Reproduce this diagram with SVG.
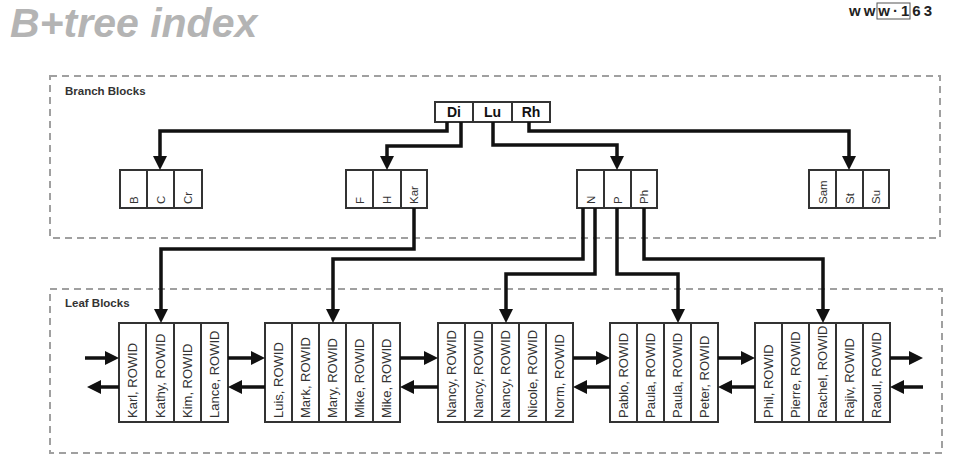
<svg xmlns="http://www.w3.org/2000/svg" width="974" height="461" viewBox="0 0 974 461">
<defs>
<style>
.title{font-family:"Liberation Sans",Arial,sans-serif;font-weight:bold;font-style:italic;font-size:41px;fill:#b4b4b4}
.wm{font-family:"Liberation Sans",Arial,sans-serif;font-weight:bold;font-size:15px;fill:#222}
.grp{fill:none;stroke:#a0a0a0;stroke-width:2;stroke-dasharray:7 5}
.lbl{font-family:"Liberation Sans",Arial,sans-serif;font-weight:bold;font-size:11.5px;fill:#333}
.box{fill:#fff;stroke:#333;stroke-width:2}
.div{stroke:#333;stroke-width:2}
.root{font-family:"Liberation Sans",Arial,sans-serif;font-weight:bold;font-size:14px;fill:#111;text-anchor:middle}
.bt{font-family:"Liberation Sans",Arial,sans-serif;font-size:11.5px;fill:#333}
.lt{font-family:"Liberation Sans",Arial,sans-serif;font-size:13px;fill:#333}
.c{fill:none;stroke:#111;stroke-width:3.5;marker-end:url(#ah)}
</style>
<marker id="ah" markerUnits="userSpaceOnUse" markerWidth="14" markerHeight="14" viewBox="0 0 14 14" refX="6" refY="7" orient="auto">
<path d="M0,0 L14,7 L0,14 z" fill="#111"/>
</marker>
</defs>
<rect width="974" height="461" fill="#fff"/>
<text class="title" x="10" y="37">B+tree index</text>
<g id="watermark">
<rect x="877" y="3" width="33" height="16" fill="none" stroke="#555" stroke-width="1"/>
<text class="wm" x="849" y="16" letter-spacing="3">www·163</text>
</g>

<g id="branch-group">
<rect class="grp" x="50" y="76" width="890" height="162"/>
<text class="lbl" x="65" y="95">Branch Blocks</text>
</g>
<g id="leaf-group">
<rect class="grp" x="50" y="289" width="892" height="164"/>
<text class="lbl" x="65" y="307">Leaf Blocks</text>
</g>

<g id="root">
<rect class="box" x="435" y="102" width="115" height="20"/>
<line class="div" x1="473" y1="102" x2="473" y2="122"/>
<line class="div" x1="512" y1="102" x2="512" y2="122"/>
<text class="root" x="454" y="117">Di</text>
<text class="root" x="492.5" y="117">Lu</text>
<text class="root" x="531" y="117">Rh</text>
</g>

<g id="branch-B">
<rect class="box" x="120" y="170" width="82" height="38"/>
<line class="div" x1="147" y1="170" x2="147" y2="208"/>
<line class="div" x1="174" y1="170" x2="174" y2="208"/>
<text class="bt" transform="translate(137.5,204) rotate(-90)">B</text>
<text class="bt" transform="translate(164.5,204) rotate(-90)">C</text>
<text class="bt" transform="translate(192,204) rotate(-90)">Cr</text>
</g>
<g id="branch-F">
<rect class="box" x="346" y="170" width="81" height="38"/>
<line class="div" x1="373" y1="170" x2="373" y2="208"/>
<line class="div" x1="401" y1="170" x2="401" y2="208"/>
<text class="bt" transform="translate(363.5,204) rotate(-90)">F</text>
<text class="bt" transform="translate(391,204) rotate(-90)">H</text>
<text class="bt" transform="translate(418,204) rotate(-90)">Kar</text>
</g>
<g id="branch-N">
<rect class="box" x="577" y="170" width="80" height="38"/>
<line class="div" x1="604" y1="170" x2="604" y2="208"/>
<line class="div" x1="631" y1="170" x2="631" y2="208"/>
<text class="bt" transform="translate(594.5,204) rotate(-90)">N</text>
<text class="bt" transform="translate(621.5,204) rotate(-90)">P</text>
<text class="bt" transform="translate(648,204) rotate(-90)">Ph</text>
</g>
<g id="branch-S">
<rect class="box" x="809" y="170" width="80" height="38"/>
<line class="div" x1="836" y1="170" x2="836" y2="208"/>
<line class="div" x1="863" y1="170" x2="863" y2="208"/>
<text class="bt" transform="translate(826.5,204) rotate(-90)">Sam</text>
<text class="bt" transform="translate(853.5,204) rotate(-90)">St</text>
<text class="bt" transform="translate(880,204) rotate(-90)">Su</text>
</g>

<g id="leaf-1">
<rect class="box" x="119" y="323" width="109" height="99"/>
<line class="div" x1="146" y1="323" x2="146" y2="422"/>
<line class="div" x1="174" y1="323" x2="174" y2="422"/>
<line class="div" x1="201" y1="323" x2="201" y2="422"/>
<text class="lt" transform="translate(137,418) rotate(-90)">Karl, ROWID</text>
<text class="lt" transform="translate(164.5,418) rotate(-90)">Kathy, ROWID</text>
<text class="lt" transform="translate(192,418) rotate(-90)">Kim, ROWID</text>
<text class="lt" transform="translate(219,418) rotate(-90)">Lance, ROWID</text>
</g>
<g id="leaf-2">
<rect class="box" x="265" y="323" width="135" height="99"/>
<line class="div" x1="292" y1="323" x2="292" y2="422"/>
<line class="div" x1="319" y1="323" x2="319" y2="422"/>
<line class="div" x1="346" y1="323" x2="346" y2="422"/>
<line class="div" x1="373" y1="323" x2="373" y2="422"/>
<text class="lt" transform="translate(283,418) rotate(-90)">Luis, ROWID</text>
<text class="lt" transform="translate(310,418) rotate(-90)">Mark, ROWID</text>
<text class="lt" transform="translate(337,418) rotate(-90)">Mary, ROWID</text>
<text class="lt" transform="translate(364,418) rotate(-90)">Mike, ROWID</text>
<text class="lt" transform="translate(391,418) rotate(-90)">Mike, ROWID</text>
</g>
<g id="leaf-3">
<rect class="box" x="438" y="323" width="135" height="99"/>
<line class="div" x1="465" y1="323" x2="465" y2="422"/>
<line class="div" x1="492" y1="323" x2="492" y2="422"/>
<line class="div" x1="519" y1="323" x2="519" y2="422"/>
<line class="div" x1="546" y1="323" x2="546" y2="422"/>
<text class="lt" transform="translate(456,418) rotate(-90)">Nancy, ROWID</text>
<text class="lt" transform="translate(483,418) rotate(-90)">Nancy, ROWID</text>
<text class="lt" transform="translate(510,418) rotate(-90)">Nancy, ROWID</text>
<text class="lt" transform="translate(537,418) rotate(-90)">Nicole, ROWID</text>
<text class="lt" transform="translate(564,418) rotate(-90)">Norm, ROWID</text>
</g>
<g id="leaf-4">
<rect class="box" x="610" y="323" width="108" height="99"/>
<line class="div" x1="637" y1="323" x2="637" y2="422"/>
<line class="div" x1="664" y1="323" x2="664" y2="422"/>
<line class="div" x1="691" y1="323" x2="691" y2="422"/>
<text class="lt" transform="translate(628,418) rotate(-90)">Pablo, ROWID</text>
<text class="lt" transform="translate(655,418) rotate(-90)">Paula, ROWID</text>
<text class="lt" transform="translate(682,418) rotate(-90)">Paula, ROWID</text>
<text class="lt" transform="translate(709,418) rotate(-90)">Peter, ROWID</text>
</g>
<g id="leaf-5">
<rect class="box" x="755" y="323" width="135" height="99"/>
<line class="div" x1="782" y1="323" x2="782" y2="422"/>
<line class="div" x1="809" y1="323" x2="809" y2="422"/>
<line class="div" x1="836" y1="323" x2="836" y2="422"/>
<line class="div" x1="863" y1="323" x2="863" y2="422"/>
<text class="lt" transform="translate(773,418) rotate(-90)">Phil, ROWID</text>
<text class="lt" transform="translate(800,418) rotate(-90)">Pierre, ROWID</text>
<text class="lt" transform="translate(827,418) rotate(-90)">Rachel, ROWID</text>
<text class="lt" transform="translate(854,418) rotate(-90)">Rajiv, ROWID</text>
<text class="lt" transform="translate(881,418) rotate(-90)">Raoul, ROWID</text>
</g>

<g id="connectors">
<path class="c" d="M447,122 V131 H160 V162"/>
<path class="c" d="M461,122 V146 H387 V162"/>
<path class="c" d="M493,122 V145 H617 V162"/>
<path class="c" d="M529,122 V131 H849 V162"/>
<path class="c" d="M414,208 V249 H161 V315"/>
<path class="c" d="M583,208 V259 H333 V315"/>
<path class="c" d="M595,208 V274 H506 V315"/>
<path class="c" d="M617,208 V274 H678 V315"/>
<path class="c" d="M644,208 V259 H823 V315"/>
<path class="c" d="M85,358 H111"/>
<path class="c" d="M228,358 H257"/>
<path class="c" d="M400,358 H430"/>
<path class="c" d="M573,358 H602"/>
<path class="c" d="M718,358 H747"/>
<path class="c" d="M890,358 H915"/>
<path class="c" d="M119,387 H95"/>
<path class="c" d="M265,387 H236"/>
<path class="c" d="M438,387 H408"/>
<path class="c" d="M610,387 H581"/>
<path class="c" d="M755,387 H726"/>
<path class="c" d="M923,387 H898"/>
</g>
</svg>
